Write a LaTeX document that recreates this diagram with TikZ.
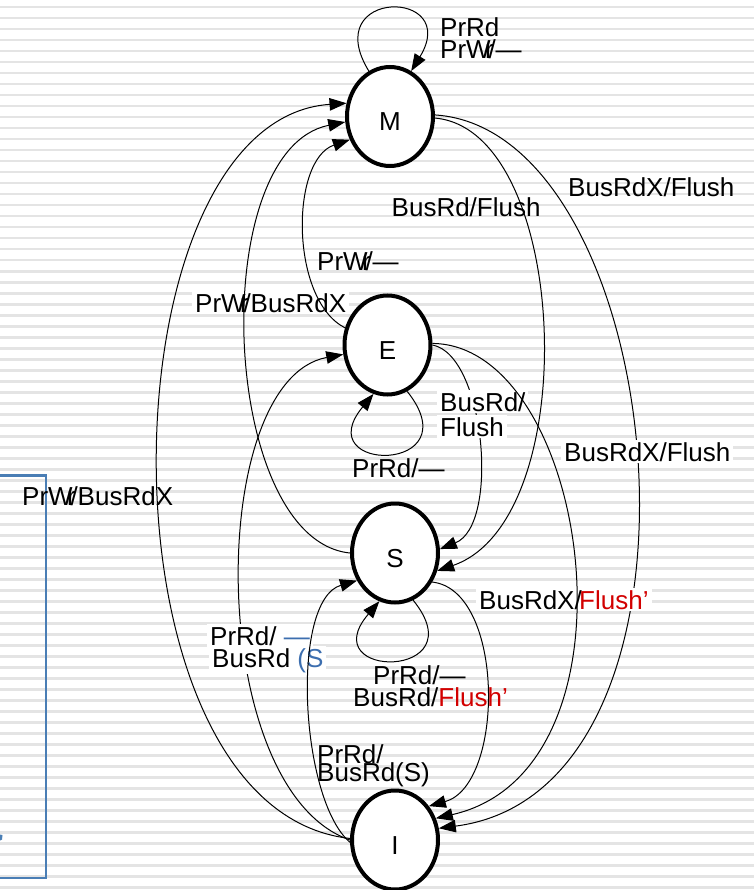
\documentclass[tikz,border=0pt]{standalone}
\usepackage{fontspec}
\setmainfont{Liberation Sans}
\usetikzlibrary{arrows.meta,shapes.geometric}
\definecolor{stripe}{RGB}{228,228,228}
\definecolor{frameblue}{RGB}{74,126,181}
\definecolor{labelblue}{RGB}{60,110,175}
\definecolor{labelred}{RGB}{210,0,0}
% "PrWr/" as set in the slide, with the letters pushed together
\newcommand{\prwr}{PrW\kern-.22em r\kern-.2em/}

\begin{document}
\begin{tikzpicture}[x=1pt,y=-1pt,
  state/.style={ellipse, draw, line width=4pt, fill=white,
    minimum width=86pt, minimum height=99pt, inner sep=0pt,
    text height=29pt, text depth=0pt, font=\fontsize{26}{28}\selectfont},
  trans/.style={line width=1pt, -{Triangle[length=17pt,width=12.5pt]}},
  lbl/.style={anchor=base west, inner sep=0pt, font=\fontsize{26}{28}\selectfont},
  boxed/.style={lbl, fill=white, inner xsep=3pt, inner ysep=2pt}]

\useasboundingbox (0,0) rectangle (754,890);
\fill[white] (0,0) rectangle (754,890);
% ruled background
\foreach \k in {0,...,80}
  \fill[stripe] (0,{6.2+11*\k}) rectangle (754,{8.5+11*\k});

% frame fragment on the left
\draw[frameblue, line width=2.4pt] (0,475.5) -- (46,475.5) -- (46,878) -- (0,878);
\fill[frameblue] (0,834.5) -- (2.5,835) -- (2,839.5) -- (0,840.5) -- cycle;

% states
\node[state] (M) at (390,116.5) {M};
\node[state] (E) at (387.5,345) {E};
\node[state] (S) at (395,553) {S};
\node[state] (I) at (395,840) {I};

% transitions passing behind their labels
\draw[trans] (M.2) .. controls (670,130) and (735,790) .. (I.15);
\draw[trans] (I.180) .. controls (205,790) and (205,380) .. (E.192);
\draw[trans] (E.0) .. controls (485,355) and (500,525) .. (S.5);

% labels
\node[lbl] (lMa) at (440,37) {PrRd};
\node[lbl] (lMb) at (440,59) {\prwr—};
\node[lbl] (lMS) at (391.5,217) {BusRd/Flush};
\node[lbl] (lMI) at (568,197) {BusRdX/Flush};
\node[lbl] (lEM) at (317,270) {\prwr—};
\node[boxed] (lSM) at (192,312) {\prwr BusRdX};
\node[boxed] (lESa) at (437,411) {BusRd/};
\node[boxed] (lESb) at (437,436) {Flush};
\node[lbl] (lEE) at (352,477) {PrRd/—};
\node[boxed] (lEI) at (561,461) {BusRdX/Flush};
\node[lbl] (lIM) at (22,505) {\prwr BusRdX};
\node[boxed] (lSI) at (476,609) {BusRdX/\kern-.1em\textcolor{labelred}{Flush’}};
\node[boxed] (lIEa) at (207,645) {PrRd/ \textcolor{labelblue}{—}};
\node[boxed] (lIEb) at (209,667) {BusRd \textcolor{labelblue}{(S}};
\node[lbl] (lSSa) at (373,684) {PrRd/—};
\node[lbl] (lSSb) at (353,706) {BusRd/\textcolor{labelred}{Flush’}};
\node[lbl] (lISa) at (317,763) {PrRd/};
\node[lbl] (lISb) at (317,781) {BusRd(S)};

% remaining transitions
\draw[trans] (M.115) .. controls (318,-12) and (462,-12) .. (M.65);
\draw[trans] (I.178) .. controls (90,810) and (100,120) .. (M.163);
\draw[trans] (S.180) .. controls (220,540) and (205,150) .. (M.187);
\draw[trans] (E.158) .. controls (290,300) and (290,160) .. (M.210);
\draw[trans] (I.183) .. controls (300,800) and (290,600) .. (S.216);
\draw[trans] (M.-2) .. controls (570,130) and (585,520) .. (S.-23);
\draw[trans] (E.2) .. controls (590,345) and (650,770) .. (I.28);
\draw[trans] (S.-38) .. controls (505,590) and (505,785) .. (I.45);
\draw[trans] (S.-69) .. controls (478,680) and (312,680) .. (S.-108);
\draw[trans] (E.-67) .. controls (473,474) and (307,474) .. (E.-106);
\end{tikzpicture}
\end{document}
